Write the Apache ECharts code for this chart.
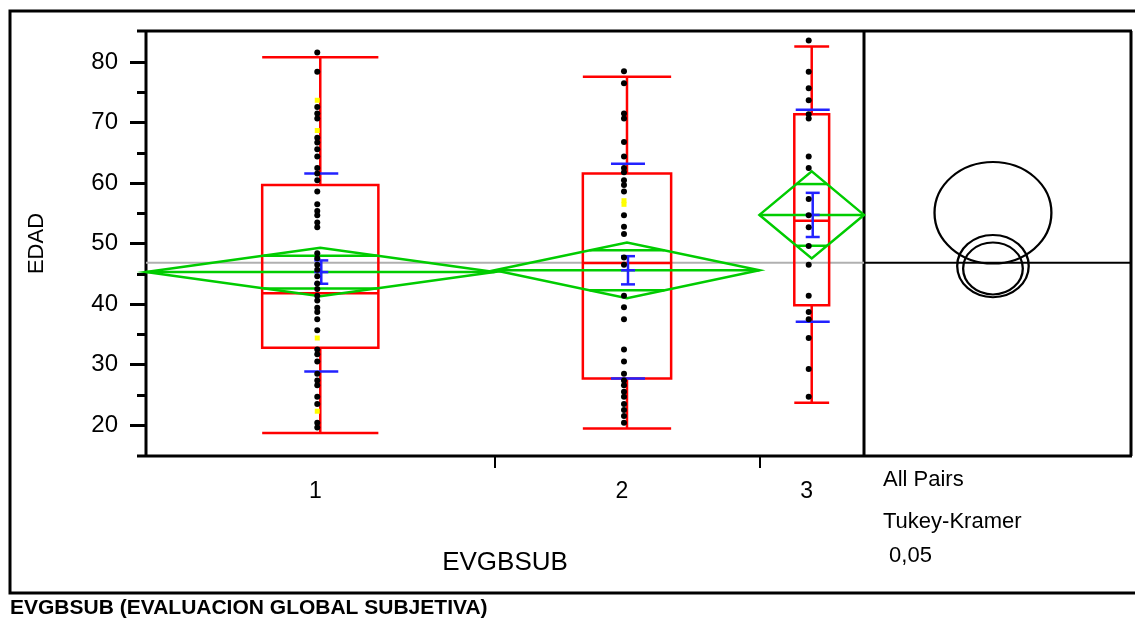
<!DOCTYPE html>
<html>
<head>
<meta charset="utf-8">
<script src="https://cdn.jsdelivr.net/npm/echarts@6/dist/echarts.min.js"></script>
<style>
html, body { margin: 0; padding: 0; background: #fff; }
#chart { width: 1135px; height: 621px; }
</style>
</head>
<body>
<div id="chart"></div>
<script>
// grupos y tamaños (el ancho de cada grupo es proporcional a n)
const groups = ['1', '2', '3'];
const groupN = [50, 38, 15];

// cajas (outlier box plot)
const boxMin = [18.7, 19.45, 23.7];
const boxQ1 = [32.8, 27.7, 39.8];
const boxMed = [41.8, 46.8, 53.8];
const boxQ3 = [59.7, 61.6, 71.4];
const boxMax = [80.8, 77.6, 82.6];

// diamantes de medias
const means = [45.3, 45.6, 54.75];
const ciHalf = [4.0, 4.6, 7.2];
const overlapHalf = [2.7, 3.3, 5.1];

// barras de error y lineas de desviacion
const seHalf = [1.93, 2.33, 3.65];
const sdHigh = [61.6, 63.2, 72.15];
const sdLow = [28.85, 27.7, 37.1];

const grandMean = 46.85;

// circulos de comparacion (Tukey-Kramer)
const circleCenter = [45.9, 46.3, 55.1];
const circleRadius = [4.29, 5.14, 8.4];

// puntos
const dots1 = [81.6, 78.4, 72.6, 71.5, 70.7, 67.5, 66.7, 65.6, 64.4, 62.5, 61.6, 60.5, 58.6, 56.5, 55.4, 54.7, 53.5, 52.7,
  48.4, 47.6, 46.5, 45.7, 44.6, 43.4, 42.5, 41.4, 40.6, 39.4, 38.7, 37.5, 35.7, 32.5, 31.7, 30.5, 28.5, 27.4, 26.6,
  24.7, 23.5, 20.4, 19.6];
const yellow1 = [73.7, 68.7, 34.4, 22.3];
const dots2 = [78.5, 76.5, 71.5, 70.7, 66.8, 64.4, 62.5, 61.8, 60.5, 59.7, 58.6, 54.7, 52.8, 51.6, 47.7, 46.5, 41.4,
  39.5, 37.5, 32.5, 30.5, 28.5, 27.4, 26.6, 25.5, 24.7, 23.5, 22.5, 21.5, 20.4];
const yellow2 = [57.1, 56.5];
const dots3 = [83.6, 78.4, 75.7, 73.7, 71.4, 70.7, 64.4, 62.5, 57.4, 54.7, 52.7, 49.6, 46.5, 41.4, 38.7, 37.5, 34.4,
  29.3, 24.7];

const yTicks = [20, 30, 40, 50, 60, 70, 80];
const yMinorTicks = [25, 35, 45, 55, 65, 75];
const yMin = 14.9, yMax = 85.15;

const FONT = 'Liberation Sans, Arial, sans-serif';
const RED = '#ff0000', GREEN = '#00cc00', BLUE = '#2222ff';

const starts = [];
let total = 0;
groupN.forEach(n => { starts.push(total); total += n; });
const centers = starts.map((s, i) => s + groupN[i] / 2);

function ln(a, b, style) {
  return { type: 'line', shape: { x1: a[0], y1: a[1], x2: b[0], y2: b[1] }, style: style };
}

function boxItem(params, api) {
  const i = api.value(0);
  const c = centers[i], h = groupN[i] / 6;
  const P = (x, y) => api.coord([x, y]);
  const st = { stroke: RED, lineWidth: 2.5, fill: null };
  return {
    type: 'group', children: [
      { type: 'polygon', shape: { points: [P(c - h, boxQ1[i]), P(c + h, boxQ1[i]), P(c + h, boxQ3[i]), P(c - h, boxQ3[i])] }, style: st },
      ln(P(c - h, boxMed[i]), P(c + h, boxMed[i]), st),
      ln(P(c, boxQ3[i]), P(c, boxMax[i]), st),
      ln(P(c, boxQ1[i]), P(c, boxMin[i]), st),
      ln(P(c - h, boxMax[i]), P(c + h, boxMax[i]), st),
      ln(P(c - h, boxMin[i]), P(c + h, boxMin[i]), st)
    ]
  };
}

function diamondItem(params, api) {
  const i = api.value(0);
  const s = starts[i], e = s + groupN[i], c = centers[i];
  const m = means[i], h = ciHalf[i], o = overlapHalf[i];
  const k = (1 - o / h) * groupN[i] / 2;
  const P = (x, y) => api.coord([x, y]);
  const st = { stroke: GREEN, lineWidth: 2.5, fill: null };
  return {
    type: 'group', children: [
      { type: 'polygon', shape: { points: [P(s, m), P(c, m + h), P(e, m), P(c, m - h)] }, style: st },
      ln(P(s, m), P(e, m), st),
      ln(P(c - k, m + o), P(c + k, m + o), st),
      ln(P(c - k, m - o), P(c + k, m - o), st)
    ]
  };
}

function blueItem(params, api) {
  const i = api.value(0);
  const c = api.coord([centers[i], means[i]]);
  const yHi = api.coord([centers[i], sdHigh[i]])[1];
  const yLo = api.coord([centers[i], sdLow[i]])[1];
  const yT = api.coord([centers[i], means[i] + seHalf[i]])[1];
  const yB = api.coord([centers[i], means[i] - seHalf[i]])[1];
  const x = c[0] + 1;
  const st = { stroke: BLUE, lineWidth: 2.5 };
  return {
    type: 'group', children: [
      ln([x - 17, yHi], [x + 17, yHi], st),
      ln([x - 17, yLo], [x + 17, yLo], st),
      ln([x, yT], [x, yB], st),
      ln([x - 7, yT], [x + 7, yT], st),
      ln([x - 7, c[1]], [x + 7, c[1]], st),
      ln([x - 7, yB], [x + 7, yB], st)
    ]
  };
}

function circleItem(params, api) {
  const i = api.value(0);
  const c = api.coord([0.483, circleCenter[i]]);
  const r = api.size([0, circleRadius[i]])[1];
  return {
    type: 'circle', x: c[0], y: c[1], scaleX: 1.15,
    shape: { cx: 0, cy: 0, r: r },
    style: { stroke: '#000', lineWidth: 2, fill: null, strokeNoScale: true }
  };
}

function pts(list, g) { return list.map(v => [centers[g], v]); }

const blackDots = [].concat(pts(dots1, 0), pts(dots2, 1), pts(dots3, 2));
const yellowDots = [].concat(pts(yellow1, 0), pts(yellow2, 1));

const chart = echarts.init(document.getElementById('chart'));
chart.setOption({
  animation: false,
  backgroundColor: '#fff',
  grid: [
    { left: 146, top: 31, width: 718, height: 425 },
    { left: 864, top: 31, width: 267, height: 425 }
  ],
  xAxis: [
    {
      gridIndex: 0, type: 'value', min: 0, max: total,
      splitLine: { show: false },
      axisLine: { show: false },
      axisTick: { show: true, customValues: [starts[1], starts[2]], length: 12, lineStyle: { color: '#000', width: 2 } },
      axisLabel: {
        customValues: centers, margin: 24, fontSize: 23, color: '#000', fontFamily: FONT,
        padding: [0, 10, 0, 0],
        formatter: v => groups[centers.indexOf(v)]
      },
      name: 'EVGBSUB', nameLocation: 'middle', nameGap: 94,
      nameTextStyle: { fontSize: 26, color: '#000', fontFamily: FONT }
    },
    { gridIndex: 1, type: 'value', min: 0, max: 1, show: false }
  ],
  yAxis: [
    {
      gridIndex: 0, type: 'value', min: yMin, max: yMax, position: 'left',
      splitLine: { show: false },
      axisLine: { show: false },
      axisTick: { show: true, customValues: yTicks, length: 16, lineStyle: { color: '#000', width: 3 } },
      axisLabel: { customValues: yTicks, margin: 28, fontSize: 24, color: '#000', fontFamily: FONT },
      name: 'EDAD', nameLocation: 'middle', nameGap: 98, nameRotate: 90,
      nameTextStyle: { fontSize: 22, color: '#000', fontFamily: FONT }
    },
    {
      gridIndex: 0, type: 'value', min: yMin, max: yMax, position: 'left', offset: 0,
      splitLine: { show: false }, axisLine: { show: false },
      axisTick: { show: true, customValues: yMinorTicks, length: 9, lineStyle: { color: '#000', width: 3 } },
      axisLabel: { show: false }
    },
    { gridIndex: 1, type: 'value', min: yMin, max: yMax, show: false }
  ],
  series: [
    {
      type: 'line', xAxisIndex: 0, yAxisIndex: 0, data: [[0, grandMean], [total, grandMean]],
      symbol: 'none', lineStyle: { color: '#b0b0b0', width: 2 }, z: 1
    },
    {
      type: 'line', xAxisIndex: 1, yAxisIndex: 2, data: [[0, grandMean], [1, grandMean]],
      symbol: 'none', lineStyle: { color: '#000', width: 2 }, z: 1
    },
    { type: 'custom', xAxisIndex: 0, yAxisIndex: 0, renderItem: boxItem, data: groups.map((g, i) => [i]), z: 2 },
    { type: 'custom', xAxisIndex: 0, yAxisIndex: 0, renderItem: diamondItem, data: groups.map((g, i) => [i]), z: 3 },
    { type: 'custom', xAxisIndex: 0, yAxisIndex: 0, renderItem: blueItem, data: groups.map((g, i) => [i]), z: 4 },
    {
      type: 'scatter', xAxisIndex: 0, yAxisIndex: 0, data: blackDots, symbol: 'circle', symbolSize: 6,
      symbolOffset: [-3, 0], itemStyle: { color: '#000', opacity: 1 }, z: 5
    },
    {
      type: 'scatter', xAxisIndex: 0, yAxisIndex: 0, data: yellowDots, symbol: 'rect', symbolSize: 5,
      symbolOffset: [-3, 0], itemStyle: { color: '#ffff00', opacity: 1 }, z: 5
    },
    { type: 'custom', xAxisIndex: 1, yAxisIndex: 2, renderItem: circleItem, data: circleCenter.map((c, i) => [i]), z: 3 }
  ],
  graphic: [
    { type: 'rect', shape: { x: 10, y: 11, width: 1130, height: 582 }, style: { stroke: '#000', lineWidth: 3, fill: null }, silent: true },
    { type: 'line', shape: { x1: 137, y1: 31, x2: 1132, y2: 31 }, style: { stroke: '#000', lineWidth: 3 } },
    { type: 'line', shape: { x1: 137, y1: 456, x2: 1132, y2: 456 }, style: { stroke: '#000', lineWidth: 3 } },
    { type: 'line', shape: { x1: 146, y1: 31, x2: 146, y2: 456 }, style: { stroke: '#000', lineWidth: 3 } },
    { type: 'line', shape: { x1: 864, y1: 31, x2: 864, y2: 456 }, style: { stroke: '#000', lineWidth: 3 } },
    { type: 'line', shape: { x1: 1131, y1: 31, x2: 1131, y2: 456 }, style: { stroke: '#000', lineWidth: 3 } },
    { type: 'text', style: { text: 'All Pairs', x: 883, y: 480, fontSize: 22, fontFamily: FONT, fill: '#000', verticalAlign: 'middle' } },
    { type: 'text', style: { text: 'Tukey-Kramer', x: 883, y: 522, fontSize: 22, fontFamily: FONT, fill: '#000', verticalAlign: 'middle' } },
    { type: 'text', style: { text: ' 0,05', x: 883, y: 556, fontSize: 22, fontFamily: FONT, fill: '#000', verticalAlign: 'middle' } },
    { type: 'text', style: { text: 'EVGBSUB (EVALUACION GLOBAL SUBJETIVA)', x: 10, y: 608, fontSize: 21, fontWeight: 'bold', fontFamily: FONT, fill: '#000', verticalAlign: 'middle' } }
  ]
});
</script>
</body>
</html>
